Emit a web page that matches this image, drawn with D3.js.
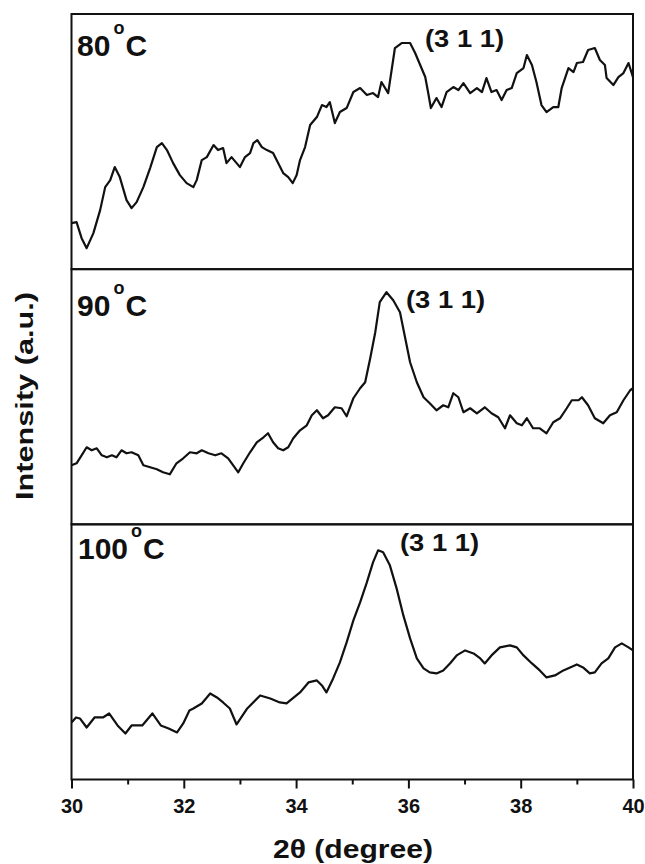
<!DOCTYPE html>
<html>
<head>
<meta charset="utf-8">
<script src="https://cdn.jsdelivr.net/npm/d3@7"></script>
<style>
  html, body { margin: 0; padding: 0; background: #fff; }
  svg { display: block; }
  text { font-family: Arial, "Liberation Sans", sans-serif; font-weight: bold; fill: #111; }
</style>
</head>
<body>
<svg id="chart" width="645" height="864"></svg>
<script>
// ---------- data (2θ in degree, intensity in a.u.) ----------
const temps = ["80", "90", "100"];
const peakLabel = "(3 1 1)";
const xTicksMajor = [30, 32, 34, 36, 38, 40];
const xTicksMinor = [31, 33, 35, 37, 39];
const xTitle = "2\u03B8 (degree)";
const yTitle = "Intensity (a.u.)";

const xrd80 = [[30.00,46],[30.09,47],[30.18,31],[30.27,21],[30.39,36],[30.51,59],[30.60,82],[30.69,89],[30.77,102],[30.86,92],
  [30.98,69],[31.07,61],[31.16,67],[31.28,82],[31.40,101],[31.52,122],[31.61,126],[31.70,119],[31.81,106],[31.93,94],
  [32.05,86],[32.17,82],[32.23,89],[32.32,109],[32.41,112],[32.53,124],[32.61,119],[32.70,121],[32.76,106],[32.85,112],
  [33.00,102],[33.09,112],[33.18,116],[33.24,126],[33.31,129],[33.39,122],[33.48,119],[33.59,116],[33.68,106],[33.77,96],
  [33.86,92],[33.94,86],[34.01,94],[34.07,109],[34.16,122],[34.25,144],[34.37,152],[34.46,164],[34.54,162],[34.60,167],
  [34.69,146],[34.78,157],[34.90,161],[35.02,177],[35.14,181],[35.26,174],[35.37,176],[35.46,172],[35.52,187],[35.64,176],
  [35.76,221],[35.88,226],[36.03,226],[36.12,216],[36.21,204],[36.30,192],[36.35,177],[36.40,161],[36.50,171],[36.59,162],
  [36.68,177],[36.80,182],[36.89,179],[36.98,186],[37.10,176],[37.22,181],[37.31,177],[37.39,191],[37.48,177],[37.57,179],
  [37.66,169],[37.75,179],[37.84,181],[37.93,196],[38.05,201],[38.11,214],[38.20,204],[38.28,187],[38.37,164],[38.46,157],
  [38.58,162],[38.67,162],[38.73,181],[38.85,201],[38.94,197],[39.00,206],[39.11,207],[39.20,219],[39.32,221],[39.41,209],
  [39.50,204],[39.53,191],[39.65,184],[39.74,192],[39.83,196],[39.92,206],[40.00,192]];

const xrd90 = [[30.00,59],[30.09,61],[30.18,69],[30.27,77],[30.36,74],[30.45,76],[30.54,69],[30.63,67],[30.72,69],[30.80,67],
  [30.89,74],[30.98,71],[31.07,72],[31.19,69],[31.28,59],[31.40,57],[31.52,55],[31.63,52],[31.75,50],[31.87,61],
  [31.99,66],[32.11,72],[32.23,71],[32.32,74],[32.44,71],[32.56,69],[32.67,71],[32.79,66],[32.88,59],[32.97,52],
  [33.06,61],[33.18,72],[33.30,82],[33.42,87],[33.50,91],[33.59,82],[33.68,76],[33.77,74],[33.86,77],[33.95,86],
  [34.07,94],[34.19,99],[34.28,109],[34.37,114],[34.48,106],[34.57,109],[34.69,117],[34.81,116],[34.90,108],[35.02,126],
  [35.14,136],[35.23,142],[35.32,166],[35.41,192],[35.49,222],[35.61,232],[35.73,224],[35.85,212],[35.94,187],[36.03,162],
  [36.15,142],[36.27,127],[36.38,121],[36.50,114],[36.62,119],[36.71,117],[36.80,131],[36.89,127],[36.98,112],[37.10,116],
  [37.22,111],[37.36,117],[37.48,111],[37.60,107],[37.72,96],[37.81,109],[37.93,101],[38.02,99],[38.11,106],[38.22,96],
  [38.34,96],[38.46,91],[38.58,102],[38.70,106],[38.82,116],[38.91,124],[39.03,124],[39.09,127],[39.20,119],[39.32,106],
  [39.47,101],[39.59,109],[39.71,112],[39.83,124],[39.95,134],[40.00,136]];

const xrd100 = [[30.00,57],[30.08,62],[30.15,61],[30.27,52],[30.41,62],[30.56,62],[30.67,66],[30.82,54],[30.96,46],[31.07,54],
  [31.26,54],[31.44,66],[31.59,54],[31.73,51],[31.88,47],[31.99,56],[32.10,69],[32.17,71],[32.32,76],[32.47,86],
  [32.59,82],[32.70,77],[32.82,71],[32.94,55],[33.13,71],[33.36,84],[33.54,81],[33.71,77],[33.83,76],[34.07,87],
  [34.22,97],[34.37,99],[34.46,94],[34.54,87],[34.66,101],[34.78,117],[34.90,137],[35.02,159],[35.14,177],[35.26,197],
  [35.37,217],[35.46,229],[35.55,227],[35.67,214],[35.79,191],[35.91,164],[36.03,141],[36.15,121],[36.27,111],[36.38,107],
  [36.50,106],[36.62,109],[36.74,116],[36.86,124],[37.01,129],[37.16,126],[37.28,121],[37.36,116],[37.48,124],[37.63,132],
  [37.81,134],[37.93,132],[38.05,124],[38.20,116],[38.34,109],[38.46,102],[38.61,104],[38.76,109],[38.88,112],[39.00,115],
  [39.11,112],[39.23,106],[39.32,107],[39.44,116],[39.56,121],[39.68,132],[39.80,136],[39.92,132],[40.00,129]];

const series = [xrd80, xrd90, xrd100];

// ---------- layout ----------
const svg = d3.select("#chart");
const plotLeft = 71.5, plotRight = 633, plotTop = 14, plotBottom = 779.5;
const nPanels = 3;
const panelH = (plotBottom - plotTop) / nPanels;

const x = d3.scaleLinear().domain([30, 40]).range([plotLeft, plotRight]);

// per-panel label placements
const tempLabelPos = [{x: 77, y: 56}, {x: 77, y: 316}, {x: 78, y: 559}];
const peakLabelPos = [{x: 425, y: 47}, {x: 406, y: 308}, {x: 400, y: 551}];

series.forEach((data, i) => {
  const pTop = plotTop + i * panelH, pBot = pTop + panelH;
  const y = d3.scaleLinear().domain([0, 255]).range([pBot, pTop]);
  const line = d3.line().x(d => x(d[0])).y(d => y(d[1]));
  svg.append("path")
    .datum(data)
    .attr("d", line)
    .attr("fill", "none")
    .attr("stroke", "#111")
    .attr("stroke-width", 2.2)
    .attr("stroke-linejoin", "round");

  // temperature label
  const t = svg.append("text")
    .attr("x", tempLabelPos[i].x)
    .attr("y", tempLabelPos[i].y)
    .attr("font-size", 30);
  t.append("tspan").text(temps[i]);
  t.append("tspan").attr("font-size", 18).attr("dx", 3).attr("dy", -22).text("o");
  t.append("tspan").attr("dx", 1).attr("dy", 22).text("C");

  // peak label
  svg.append("text")
    .attr("x", peakLabelPos[i].x)
    .attr("y", peakLabelPos[i].y)
    .attr("font-size", 23)
    .attr("textLength", 79)
    .attr("lengthAdjust", "spacingAndGlyphs")
    .text(peakLabel);
});

// panel frames
for (let i = 0; i < nPanels; i++) {
  svg.append("rect")
    .attr("x", plotLeft).attr("y", plotTop + i * panelH)
    .attr("width", plotRight - plotLeft).attr("height", panelH)
    .attr("fill", "none").attr("stroke", "#111").attr("stroke-width", 2);
}

// x axis (major + minor, outward ticks)
const gMaj = svg.append("g").attr("transform", `translate(0,${plotBottom})`)
  .call(d3.axisBottom(x).tickValues(xTicksMajor).tickSize(9).tickPadding(10.5).tickFormat(d3.format("d")));
gMaj.select(".domain").remove();
gMaj.selectAll("line").attr("stroke", "#111").attr("stroke-width", 2);
gMaj.selectAll("text").attr("font-size", 20).attr("fill", "#111")
  .style("font-family", "Arial, 'Liberation Sans', sans-serif").style("font-weight", "bold");

const gMin = svg.append("g").attr("transform", `translate(0,${plotBottom})`)
  .call(d3.axisBottom(x).tickValues(xTicksMinor).tickSize(5).tickFormat(""));
gMin.select(".domain").remove();
gMin.selectAll("line").attr("stroke", "#111").attr("stroke-width", 2);

// axis titles
svg.append("text")
  .attr("x", 353)
  .attr("y", 858)
  .attr("text-anchor", "middle")
  .attr("font-size", 25)
  .attr("textLength", 160)
  .attr("lengthAdjust", "spacingAndGlyphs")
  .text(xTitle);

svg.append("text")
  .attr("transform", "translate(33,396) rotate(-90)")
  .attr("text-anchor", "middle")
  .attr("font-size", 24)
  .attr("textLength", 208)
  .attr("lengthAdjust", "spacingAndGlyphs")
  .text(yTitle);
</script>
</body>
</html>
